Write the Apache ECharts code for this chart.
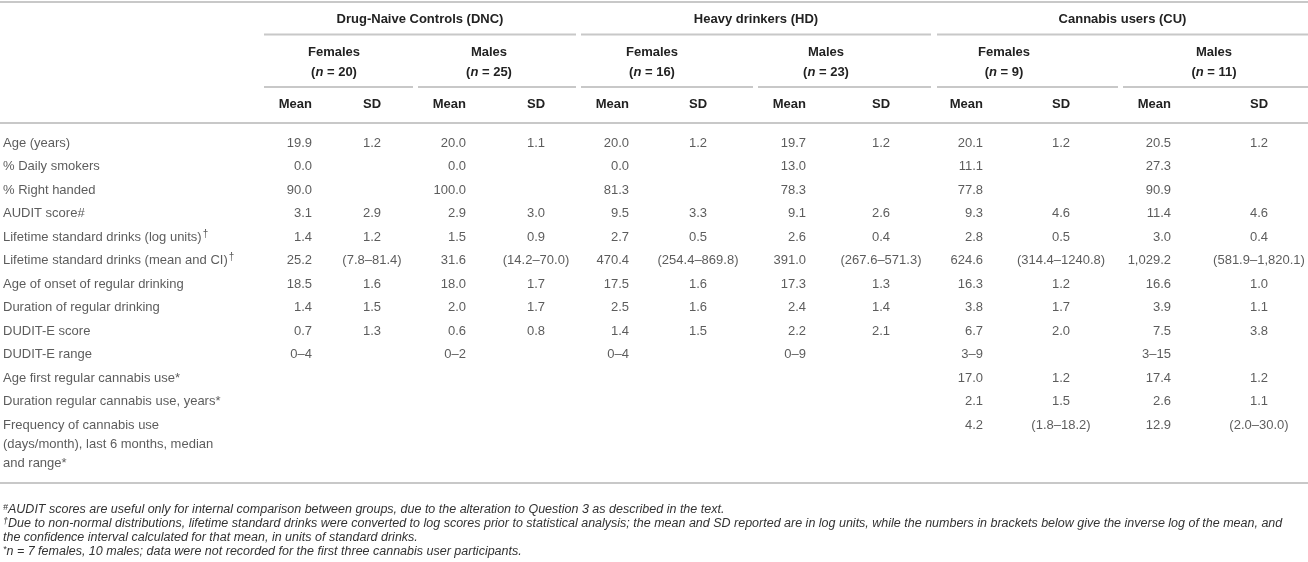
<!DOCTYPE html>
<html><head><meta charset="utf-8">
<script src="https://cdn.jsdelivr.net/npm/echarts@6/dist/echarts.min.js"></script>
<style>html,body{margin:0;padding:0;background:#fff}#c{width:1308px;height:562px}</style>
</head><body><div id="c"></div>
<script>
// ---------- DATA ----------
const groups = ['Drug-Naive Controls (DNC)', 'Heavy drinkers (HD)', 'Cannabis users (CU)'];
const subgroups = ['Females', 'Males', 'Females', 'Males', 'Females', 'Males'];
const subgroupN = [20, 25, 16, 23, 9, 11];
const statHeaders = ['Mean', 'SD'];
const rowLabels = [
  'Age (years)',
  '% Daily smokers',
  '% Right handed',
  'AUDIT score#',
  'Lifetime standard drinks (log units)†',
  'Lifetime standard drinks (mean and CI)†',
  'Age of onset of regular drinking',
  'Duration of regular drinking',
  'DUDIT-E score',
  'DUDIT-E range',
  'Age first regular cannabis use*',
  'Duration regular cannabis use, years*',
  'Frequency of cannabis use\n(days/month), last 6 months, median\nand range*'
];
const DNC_F_MEAN = [19.9, 0.0, 90.0, 3.1, 1.4, 25.2, 18.5, 1.4, 0.7, '0–4', null, null, null];
const DNC_F_SD   = [1.2, null, null, 2.9, 1.2, '(7.8–81.4)', 1.6, 1.5, 1.3, null, null, null, null];
const DNC_M_MEAN = [20.0, 0.0, 100.0, 2.9, 1.5, 31.6, 18.0, 2.0, 0.6, '0–2', null, null, null];
const DNC_M_SD   = [1.1, null, null, 3.0, 0.9, '(14.2–70.0)', 1.7, 1.7, 0.8, null, null, null, null];
const HD_F_MEAN  = [20.0, 0.0, 81.3, 9.5, 2.7, 470.4, 17.5, 2.5, 1.4, '0–4', null, null, null];
const HD_F_SD    = [1.2, null, null, 3.3, 0.5, '(254.4–869.8)', 1.6, 1.6, 1.5, null, null, null, null];
const HD_M_MEAN  = [19.7, 13.0, 78.3, 9.1, 2.6, 391.0, 17.3, 2.4, 2.2, '0–9', null, null, null];
const HD_M_SD    = [1.2, null, null, 2.6, 0.4, '(267.6–571.3)', 1.3, 1.4, 2.1, null, null, null, null];
const CU_F_MEAN  = [20.1, 11.1, 77.8, 9.3, 2.8, 624.6, 16.3, 3.8, 6.7, '3–9', 17.0, 2.1, 4.2];
const CU_F_SD    = [1.2, null, null, 4.6, 0.5, '(314.4–1240.8)', 1.2, 1.7, 2.0, null, 1.2, 1.5, '(1.8–18.2)'];
const CU_M_MEAN  = [20.5, 27.3, 90.9, 11.4, 3.0, 1029.2, 16.6, 3.9, 7.5, '3–15', 17.4, 2.6, 12.9];
const CU_M_SD    = [1.2, null, null, 4.6, 0.4, '(581.9–1,820.1)', 1.0, 1.1, 3.8, null, 1.2, 1.1, '(2.0–30.0)'];
const footnotes = [
  ['#', 'AUDIT scores are useful only for internal comparison between groups, due to the alteration to Question 3 as described in the text.'],
  ['†', 'Due to non-normal distributions, lifetime standard drinks were converted to log scores prior to statistical analysis; the mean and SD reported are in log units, while the numbers in brackets below give the inverse log of the mean, and'],
  ['', 'the confidence interval calculated for that mean, in units of standard drinks.'],
  ['*', 'n = 7 females, 10 males; data were not recorded for the first three cannabis user participants.']
];

// ---------- LAYOUT ----------
const W = 1308, H = 562;
const FONT = "'Liberation Sans', Arial, Helvetica, sans-serif";
const TEXT = '#333', HEAD = '#222', RULE = '#c8c8c8';
const LABEL_X = 3;
const MEAN_RIGHT = [312, 466, 629, 806, 983, 1171];
const SD_CENTER = [372, 536, 698, 881, 1061, 1259];
const SUB_SPAN = [[264, 413], [418, 576], [581, 753], [758, 931], [937, 1118], [1123, 1308]];
const SUB_CENTER = [334, 489, 652, 826, 1004, 1214];
const GROUP_SPAN = [[264, 576], [581, 931], [937, 1308]];
const ROW0 = 143, ROW_H = 23.5;
const Y_GROUP = 19, Y_SUB1 = 52, Y_SUB2 = 72, Y_STAT = 104;
const Y_TOP = 2, Y_GLINE = 34.5, Y_SLINE = 87, Y_HLINE = 123, Y_BLINE = 483;
const FOOT_Y0 = 510, FOOT_DY = 14;

const columns = [DNC_F_MEAN, DNC_F_SD, DNC_M_MEAN, DNC_M_SD, HD_F_MEAN, HD_F_SD,
                 HD_M_MEAN, HD_M_SD, CU_F_MEAN, CU_F_SD, CU_M_MEAN, CU_M_SD];

function fmt(v) {
  if (typeof v !== 'number') return v;
  const s = v.toFixed(1);
  if (Math.abs(v) >= 1000) {
    const [a, b] = s.split('.');
    return a.replace(/\B(?=(\d{3})+(?!\d))/g, ',') + '.' + b;
  }
  return s;
}
function supRich(t) {
  return t.replace(/†/g, '{sup|†}');
}
const richBase = {
  sup: { fontSize: 10, fontFamily: FONT, color: TEXT, verticalAlign: 'top', lineHeight: 16, padding: [0, 0, 6, 1] }
};

const series = [];
// row labels
series.push({
  type: 'scatter', symbolSize: 1, silent: true, animation: false,
  itemStyle: { color: 'transparent' },
  data: rowLabels.map((l, i) => {
    const item = { value: [LABEL_X, i], name: l };
    if (l.indexOf('\n') >= 0) {
      item.label = { verticalAlign: 'top', offset: [0, -9.5], lineHeight: 19 };
    }
    return item;
  }),
  label: {
    show: true, position: 'inside', align: 'left',
    fontFamily: FONT, fontSize: 13, color: TEXT, lineHeight: 16,
    formatter: p => supRich(p.name),
    rich: richBase
  }
});
// value columns
columns.forEach((col, c) => {
  const sub = Math.floor(c / 2), isMean = c % 2 === 0;
  const x = isMean ? MEAN_RIGHT[sub] : SD_CENTER[sub];
  const data = [];
  col.forEach((v, i) => { if (v !== null && v !== undefined) data.push({ value: [x, i], name: fmt(v) }); });
  series.push({
    type: 'scatter', symbolSize: 1, silent: true, animation: false,
    itemStyle: { color: 'transparent' },
    data,
    label: {
      show: true, position: 'inside', align: isMean ? 'right' : 'center',
      fontFamily: FONT, fontSize: 13, color: TEXT,
      formatter: p => p.name
    }
  });
});

// header graphics and rules
const graphic = [];
function hline(x1, x2, y) {
  graphic.push({ type: 'line', silent: true, shape: { x1, y1: y, x2, y2: y }, style: { stroke: RULE, lineWidth: 2 } });
}
hline(0, W, Y_TOP);
GROUP_SPAN.forEach(s => hline(s[0], s[1], Y_GLINE));
SUB_SPAN.forEach(s => hline(s[0], s[1], Y_SLINE));
hline(0, W, Y_HLINE);
hline(0, W, Y_BLINE);

function txt(text, x, y, align, opts) {
  graphic.push({
    type: 'text', silent: true,
    style: Object.assign({
      text, x, y, textAlign: align, textVerticalAlign: 'middle',
      font: 'bold 13px ' + FONT, fill: HEAD
    }, opts || {})
  });
}
groups.forEach((g, k) => txt(g, (GROUP_SPAN[k][0] + GROUP_SPAN[k][1]) / 2, Y_GROUP, 'center'));
subgroups.forEach((s, k) => {
  txt(s, SUB_CENTER[k], Y_SUB1, 'center');
  txt('({i|n} = ' + subgroupN[k] + ')', SUB_CENTER[k], Y_SUB2, 'center', {
    rich: { i: { fontStyle: 'italic', fontWeight: 'bold', fontSize: 13, fontFamily: FONT, fill: HEAD } }
  });
  txt(statHeaders[0], MEAN_RIGHT[k], Y_STAT, 'right');
  txt(statHeaders[1], SD_CENTER[k], Y_STAT, 'center');
});
footnotes.forEach((f, k) => {
  const t = f[0] ? '{s|' + f[0] + '}' + f[1] : f[1];
  graphic.push({
    type: 'text', silent: true,
    style: {
      text: t, x: LABEL_X, y: FOOT_Y0 + k * FOOT_DY, textAlign: 'left', textVerticalAlign: 'middle',
      font: 'italic 12.5px ' + FONT, fill: TEXT,
      rich: { s: { fontStyle: 'italic', fontSize: 9, fontFamily: FONT, fill: TEXT, verticalAlign: 'top', padding: [0, 0, 5, 0] } }
    }
  });
});

const chart = echarts.init(document.getElementById('c'), null, { renderer: 'canvas' });
chart.setOption({
  animation: false,
  backgroundColor: '#fff',
  grid: { left: 0, right: 0, top: ROW0 - ROW_H / 2, height: ROW_H * rowLabels.length, containLabel: false },
  xAxis: { type: 'value', min: 0, max: W, show: false },
  yAxis: { type: 'category', data: rowLabels, inverse: true, show: false },
  tooltip: { show: false },
  series,
  graphic
});
</script></body></html>
